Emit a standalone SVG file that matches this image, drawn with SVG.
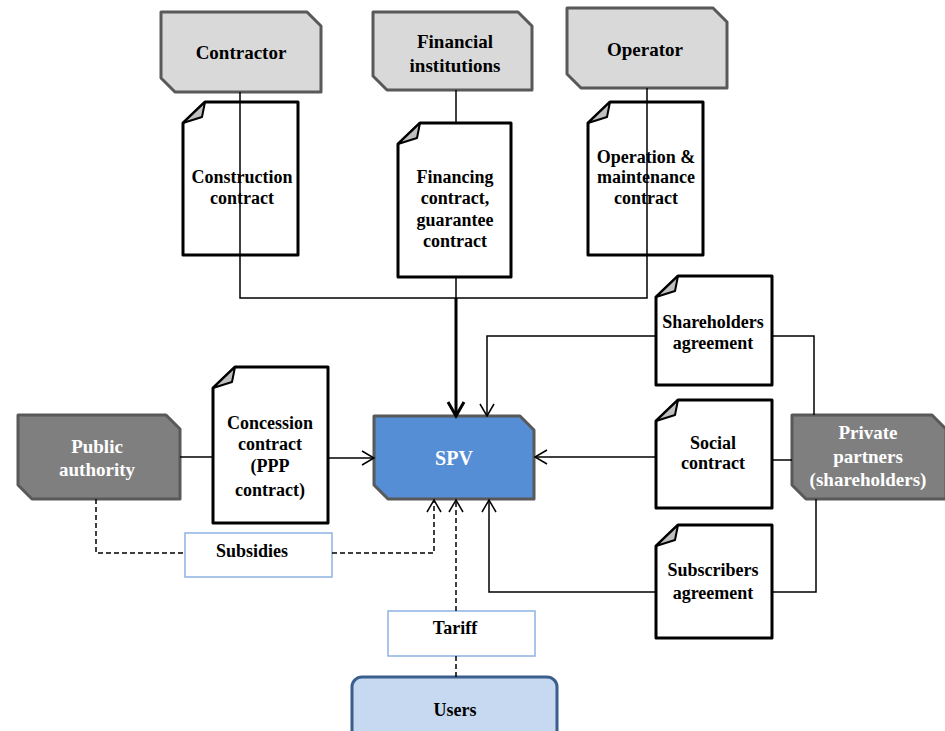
<svg xmlns="http://www.w3.org/2000/svg" width="945" height="731" viewBox="0 0 945 731">
<style>
text{font-family:"Liberation Serif","Times New Roman",serif;font-weight:bold;text-anchor:middle;fill:#000;font-size:18px}
.ent{fill:#d9d9d9;stroke:#595959;stroke-width:3;stroke-linejoin:round}
.dark{fill:#7f7f7f;stroke:#595959;stroke-width:3;stroke-linejoin:round}
.spv{fill:#558ed5;stroke:#595959;stroke-width:3;stroke-linejoin:round}
.doc{fill:#fff;stroke:#000;stroke-width:3;stroke-linejoin:round}
.fold{fill:#bfbfbf;stroke:#000;stroke-width:2;stroke-linejoin:round}
.lbl{fill:#fff;stroke:#8db3e2;stroke-width:1.5}
.users{fill:#c6d9f1;stroke:#3a5f8c;stroke-width:3}
.big{font-size:19px}
.w{fill:#fff}
.ln{fill:none;stroke:#000;stroke-width:1.5}
.thick{fill:none;stroke:#000;stroke-width:3}
.dash{fill:none;stroke:#000;stroke-width:1.5;stroke-dasharray:5 3}
</style>
<defs>
<marker id="arr" markerUnits="userSpaceOnUse" markerWidth="16" markerHeight="16" viewBox="0 0 16 16" refX="14" refY="8" orient="auto">
<path d="M2,1 L14,8 L2,15" fill="none" stroke="#000" stroke-width="1.5"/>
</marker>
<marker id="arrT" markerUnits="userSpaceOnUse" markerWidth="20" markerHeight="20" viewBox="0 0 20 20" refX="17" refY="10" orient="auto">
<path d="M3,2 L17,10 L3,18" fill="none" stroke="#000" stroke-width="3"/>
</marker>
</defs>

<g id="contractor">
<polygon class="ent" points="161,12 307,12 321,26 321,92 175,92 161,78"/>
<text class="big" x="241" y="59">Contractor</text>
</g>
<g id="financial">
<polygon class="ent" points="373,12 518,12 532,26 532,90 387,90 373,76"/>
<text class="big" x="455" y="48">Financial</text>
<text class="big" x="455" y="72">institutions</text>
</g>
<g id="operator">
<polygon class="ent" points="567,8 713,8 727,22 727,88 581,88 567,74"/>
<text class="big" x="645" y="56">Operator</text>
</g>

<g id="construction">
<path class="doc" d="M183,123 L205,102 H298 V255 H183 Z"/>
<path class="fold" d="M183,123 L205,102 L202,117 Z"/>
<text x="242" y="183">Construction</text>
<text x="242" y="204">contract</text>
</g>
<g id="financing">
<path class="doc" d="M398,144 L420,123 H511 V277 H398 Z"/>
<path class="fold" d="M398,144 L420,123 L417,138 Z"/>
<text x="455" y="183">Financing</text>
<text x="455" y="204">contract,</text>
<text x="455" y="226">guarantee</text>
<text x="455" y="247">contract</text>
</g>
<g id="operation">
<path class="doc" d="M588,123 L610,102 H703 V255 H588 Z"/>
<path class="fold" d="M588,123 L610,102 L607,117 Z"/>
<text x="646" y="163">Operation &amp;</text>
<text x="646" y="183">maintenance</text>
<text x="646" y="204">contract</text>
</g>

<g id="shareholders">
<path class="doc" d="M656,297 L678,276 H772 V385 H656 Z"/>
<path class="fold" d="M656,297 L678,276 L675,291 Z"/>
<text x="713" y="328">Shareholders</text>
<text x="713" y="349">agreement</text>
</g>
<g id="social">
<path class="doc" d="M656,421 L678,400 H772 V508 H656 Z"/>
<path class="fold" d="M656,421 L678,400 L675,415 Z"/>
<text x="713" y="449">Social</text>
<text x="713" y="469">contract</text>
</g>
<g id="subscribers">
<path class="doc" d="M656,546 L678,525 H772 V638 H656 Z"/>
<path class="fold" d="M656,546 L678,525 L675,540 Z"/>
<text x="713" y="576">Subscribers</text>
<text x="713" y="599">agreement</text>
</g>
<g id="concession">
<path class="doc" d="M213,388 L235,367 H328 V523 H213 Z"/>
<path class="fold" d="M213,388 L235,367 L232,382 Z"/>
<text x="270" y="429">Concession</text>
<text x="270" y="450">contract</text>
<text x="270" y="472">(PPP</text>
<text x="270" y="496">contract)</text>
</g>

<g id="public">
<polygon class="dark" points="18,415 166,415 180,429 180,499 32,499 18,485"/>
<text class="big w" x="97" y="453">Public</text>
<text class="big w" x="97" y="476">authority</text>
</g>
<g id="private">
<polygon class="dark" points="792,415 932,415 946,429 946,499 806,499 792,485"/>
<text class="big w" x="868" y="439">Private</text>
<text class="big w" x="868" y="463">partners</text>
<text class="big w" x="868" y="486">(shareholders)</text>
</g>
<g id="spv">
<polygon class="spv" points="374,416 520,416 534,430 534,499 388,499 374,485"/>
<text class="w" style="font-size:20px" x="454" y="465">SPV</text>
</g>

<g id="subsidies">
<rect class="lbl" x="185" y="533" width="147" height="44"/>
<text x="252" y="557">Subsidies</text>
</g>
<g id="tariff">
<rect class="lbl" x="388" y="611" width="147" height="45"/>
<text x="455" y="634">Tariff</text>
</g>
<g id="users">
<rect class="users" x="352" y="677" width="205" height="70" rx="10"/>
<text x="455" y="716">Users</text>
</g>

<g id="connectors">
<path class="ln" d="M240,92 V298 H456"/>
<path class="ln" d="M647,88 V298 H456"/>
<path class="ln" d="M456,90 V123"/>
<path class="ln" d="M456,277 V298"/>
<path class="thick" d="M456,298 V416" marker-end="url(#arrT)"/>
<path class="ln" d="M656,336 H487 V416" marker-end="url(#arr)"/>
<path class="ln" d="M656,457 H535" marker-end="url(#arr)"/>
<path class="ln" d="M656,592 H489 V500" marker-end="url(#arr)"/>
<path class="ln" d="M328,458 H374" marker-end="url(#arr)"/>
<path class="ln" d="M180,457 H213"/>
<path class="ln" d="M772,336 H814 V415"/>
<path class="ln" d="M772,460 H792"/>
<path class="ln" d="M772,592 H816 V499"/>
<path class="dash" d="M96,499 V553 H185"/>
<path class="dash" d="M332,553 H434 V500" marker-end="url(#arr)"/>
<path class="dash" d="M456,611 V500" marker-end="url(#arr)"/>
<path class="dash" d="M456,656 V677"/>
</g>
</svg>
